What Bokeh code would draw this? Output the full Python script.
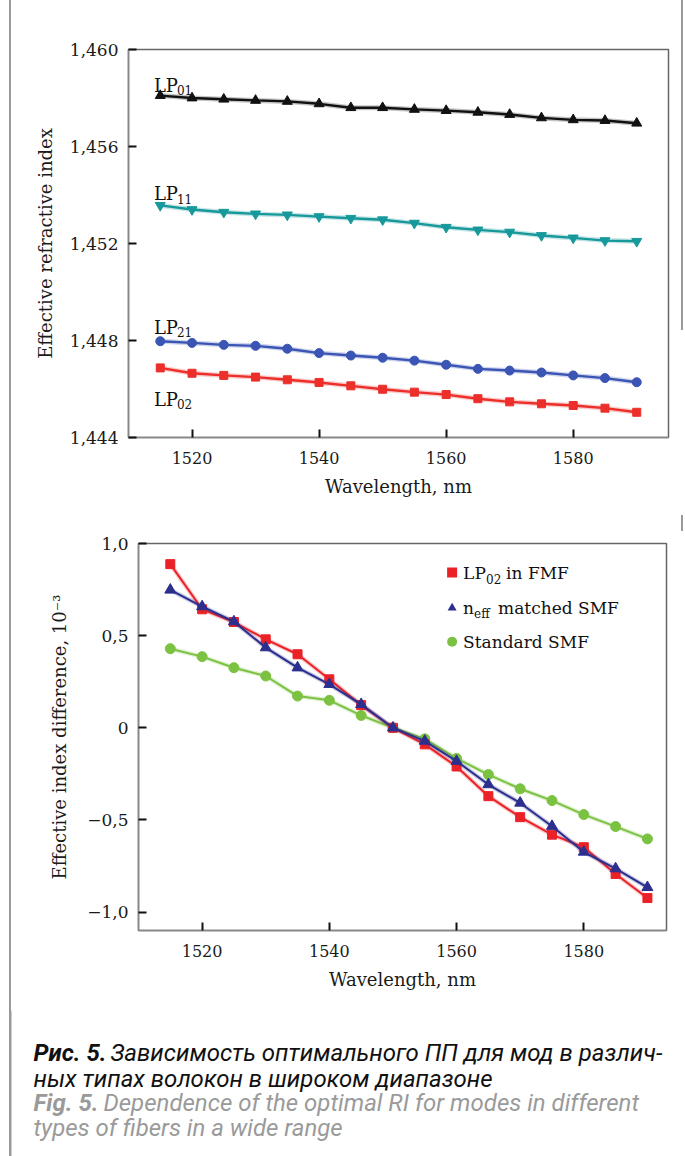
from bokeh.plotting import figure
from bokeh.models import Range1d, FixedTicker, Label
from bokeh.embed import file_html
from bokeh.resources import INLINE

# ---------------- data ----------------
wavelength = [1515, 1520, 1525, 1530, 1535, 1540, 1545, 1550,
              1555, 1560, 1565, 1570, 1575, 1580, 1585, 1590]

lp01 = [1.45810, 1.45800, 1.45795, 1.45790, 1.45786, 1.45776, 1.45760, 1.45760,
        1.45753, 1.45748, 1.45741, 1.45732, 1.45718, 1.45710, 1.45707, 1.45696]
lp11 = [1.45357, 1.45340, 1.45329, 1.45322, 1.45318, 1.45311, 1.45304, 1.45298,
        1.45284, 1.45267, 1.45256, 1.45247, 1.45233, 1.45223, 1.45212, 1.45209]
lp21 = [1.44797, 1.44790, 1.44782, 1.44778, 1.44766, 1.44748, 1.44738, 1.44729,
        1.44717, 1.44700, 1.44683, 1.44676, 1.44668, 1.44656, 1.44645, 1.44628]
lp02 = [1.44687, 1.44665, 1.44656, 1.44649, 1.44638, 1.44627, 1.44613, 1.44599,
        1.44587, 1.44577, 1.44560, 1.44547, 1.44539, 1.44532, 1.44521, 1.44504]

diff_fmf = [0.888, 0.643, 0.574, 0.480, 0.399, 0.263, 0.123, 0.0,
            -0.090, -0.210, -0.371, -0.485, -0.580, -0.648, -0.793, -0.924]
diff_neff = [0.748, 0.658, 0.576, 0.435, 0.326, 0.236, 0.127, 0.0,
             -0.072, -0.181, -0.308, -0.408, -0.534, -0.674, -0.764, -0.866]
diff_std = [0.429, 0.386, 0.326, 0.281, 0.172, 0.149, 0.067, 0.0,
            -0.060, -0.166, -0.254, -0.331, -0.395, -0.471, -0.536, -0.603]

x_ticks = [1520, 1540, 1560, 1580]
top_y_ticks = [1.444, 1.448, 1.452, 1.456, 1.460]
top_y_labels = ["1,444", "1,448", "1,452", "1,456", "1,460"]
bot_y_ticks = [-1.0, -0.5, 0.0, 0.5, 1.0]
bot_y_labels = ["\u22121,0", "\u22120,5", "0", "0,5", "1,0"]

mode_names = ["01", "11", "21", "02"]
legend_main = ["LP", "n", "Standard SMF"]
legend_sub = ["02", "eff", ""]
legend_tail = ["in FMF", "matched SMF", ""]

FONT = "DejaVu Serif"
CAP_FONT = "Roboto"
W = 685
GREY = "#9a9a9a"


def page_lines(p, height, right_len=None, right_top=0):
    """Grey page-frame rules drawn behind the (transparent) figure canvas."""
    bg = [f"linear-gradient({GREY},{GREY}) 9px 0px / 2px {height}px no-repeat"]
    if right_len:
        bg.append(f"linear-gradient({GREY},{GREY}) 681px {right_top}px / 2px {right_len}px no-repeat")
    bg.append("white")
    p.styles = {"background": ", ".join(bg)}
    p.border_fill_color = None
    p.background_fill_color = "white"


def style(p, yticks, ylabels, ylabel):
    p.xaxis.ticker = FixedTicker(ticks=x_ticks)
    p.yaxis.ticker = FixedTicker(ticks=yticks)
    p.yaxis.major_label_overrides = {t: l for t, l in zip(yticks, ylabels)}
    p.xaxis.axis_label = "Wavelength, nm"
    p.yaxis.axis_label = ylabel
    for ax in (p.xaxis, p.yaxis):
        ax.axis_label_text_font = FONT
        ax.axis_label_text_font_size = "18px"
        ax.axis_label_text_font_style = "normal"
        ax.axis_label_text_color = "#1a1a1a"
        ax.major_label_text_font = FONT
        ax.major_label_text_font_size = "16px"
        ax.major_label_text_color = "#1a1a1a"
        ax.axis_line_color = "#888888"
        ax.axis_line_width = 1.5
        ax.major_tick_line_color = "#111111"
        ax.major_tick_line_width = 2
        ax.major_tick_in = 8
        ax.major_tick_out = 0
        ax.minor_tick_line_color = None
    p.yaxis.major_label_text_font_size = "17px"
    p.xaxis.major_label_standoff = 14
    p.yaxis.major_label_standoff = 10
    p.xaxis.axis_label_standoff = 9
    p.grid.grid_line_color = None
    p.outline_line_color = "#666666"
    p.outline_line_width = 1.5


# ---------------- top chart ----------------
p1 = figure(width=W, height=510, x_range=Range1d(1510, 1595), y_range=Range1d(1.444, 1.460),
            output_backend="svg", toolbar_location=None,
            min_border_left=128, min_border_right=17, min_border_top=49, min_border_bottom=73)
style(p1, top_y_ticks, top_y_labels, "Effective refractive index")
p1.yaxis.axis_label_standoff = 11
page_lines(p1, 510, right_len=330)

series_top = [(lp01, "#111111", "triangle", 10),
              (lp11, "#17999b", "inverted_triangle", 10),
              (lp21, "#3a55b4", "circle", 9),
              (lp02, "#ec2f2a", "square", 8)]
for ys, col, mk, sz in series_top:
    p1.line(wavelength, ys, line_color=col, line_width=5, line_alpha=0.25)
    p1.line(wavelength, ys, line_color=col, line_width=2.4)
    p1.scatter(wavelength, ys, marker=mk, size=sz, fill_color=col, line_color=col)

label_y = [1.45852, 1.45405, 1.44854, 1.44557]
for name, ly in zip(mode_names, label_y):
    p1.add_layout(Label(x=1514, y=ly, text="LP", text_font=FONT, text_font_size="18px",
                        text_color="#111111", text_baseline="alphabetic"))
    p1.add_layout(Label(x=1514, y=ly, x_offset=23, y_offset=-5, text=name, text_font=FONT,
                        text_font_size="12px", text_color="#111111", text_baseline="alphabetic"))

# ---------------- bottom chart ----------------
p2 = figure(width=W, height=500, x_range=Range1d(1510, 1593), y_range=Range1d(-1.1, 1.0),
            output_backend="svg", toolbar_location=None,
            min_border_left=138, min_border_right=19, min_border_top=33, min_border_bottom=80)
style(p2, bot_y_ticks, bot_y_labels, "Effective index difference, 10\u207b\u00b3")
p2.yaxis.axis_label_standoff = 14
page_lines(p2, 500, right_len=16, right_top=5)

series_bot = [(diff_std, "#7cc242", "circle", 10),
              (diff_fmf, "#ea2228", "square", 9),
              (diff_neff, "#2c2f8e", "triangle", 11)]
for ys, col, mk, sz in series_bot:
    p2.line(wavelength, ys, line_color=col, line_width=4.5, line_alpha=0.25)
    p2.line(wavelength, ys, line_color=col, line_width=2)
    p2.scatter(wavelength, ys, marker=mk, size=sz, fill_color=col, line_color=col)

# legend (manual, to allow subscripts)
leg_x = 1559.3
leg_y = [0.842, 0.650, 0.467]
leg_cols = ["#ea2228", "#2c2f8e", "#7cc242"]
leg_marks = ["square", "triangle", "circle"]
leg_sizes = [10, 9, 10]
p2.scatter([leg_x] * 3, leg_y, marker=leg_marks, size=leg_sizes, fill_color=leg_cols, line_color=None)
for main, sub, tail, ly in zip(legend_main, legend_sub, legend_tail, leg_y):
    p2.add_layout(Label(x=leg_x, y=ly, x_offset=11, text=main, text_font=FONT, text_font_size="17px",
                        text_color="#111111", text_baseline="middle"))
    if sub:
        off = 34 if main == "LP" else 22
        p2.add_layout(Label(x=leg_x, y=ly, x_offset=off, y_offset=-6, text=sub, text_font=FONT,
                            text_font_size="12px", text_color="#111111", text_baseline="middle"))
        off2 = 54 if main == "LP" else 46
        p2.add_layout(Label(x=leg_x, y=ly, x_offset=off2, text=tail, text_font=FONT,
                            text_font_size="17px", text_color="#111111", text_baseline="middle"))

# ---------------- caption ----------------
p3 = figure(width=W, height=146, x_range=Range1d(0, W), y_range=Range1d(146, 0),
            output_backend="svg", toolbar_location=None, x_axis_type=None, y_axis_type=None,
            min_border=0)
p3.grid.grid_line_color = None
p3.outline_line_color = None
page_lines(p3, 146)
p3.background_fill_color = None
p3.segment(x0=[10], y0=[0], x1=[10], y1=[146], line_color=GREY, line_width=2)

caption = [
    (33, 42, "Рис. 5.", "bold italic", "#111111"),
    (110, 42, "Зависимость оптимального ПП для мод в различ-", "italic", "#111111"),
    (33, 68, "ных типах волокон в широком диапазоне", "italic", "#111111"),
    (33, 92, "Fig. 5.", "bold italic", GREY),
    (103, 92, "Dependence of the optimal RI for modes in different", "italic", GREY),
    (33, 117, "types of fibers in a wide range", "italic", GREY),
]
for cx, cy, txt, st, col in caption:
    p3.add_layout(Label(x=cx, y=cy, text=txt, text_font=CAP_FONT, text_font_size="24px",
                        text_font_style=st, text_color=col, text_baseline="alphabetic"))

open("out.html", "w").write(file_html([p1, p2, p3], INLINE))
